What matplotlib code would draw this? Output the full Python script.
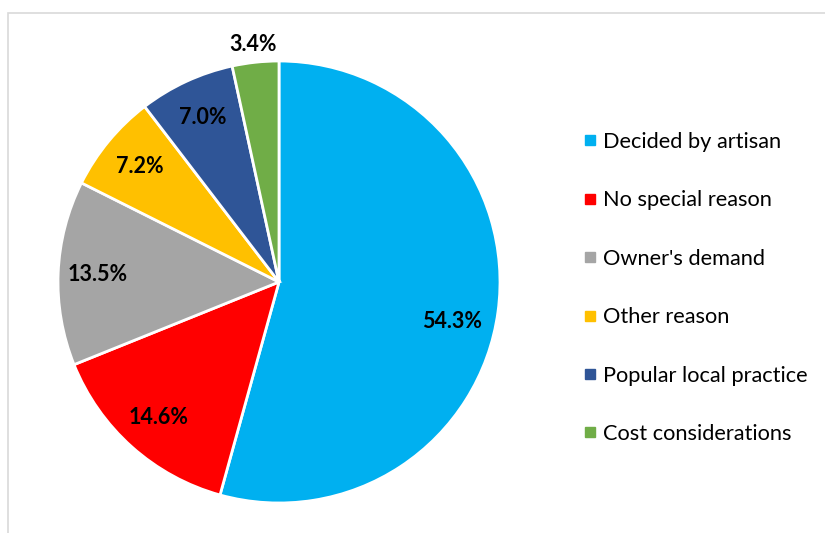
import matplotlib.pyplot as plt
from matplotlib.lines import Line2D
from matplotlib.patches import Rectangle

plt.rcParams['font.family'] = ['Lato', 'DejaVu Sans']

labels = ['Decided by artisan', 'No special reason', "Owner's demand",
          'Other reason', 'Popular local practice', 'Cost considerations']
shares = [54.3, 14.6, 13.5, 7.2, 7.0, 3.4]
colors = ['#00B0F0', '#FF0000', '#A5A5A5', '#FFC000', '#2F5597', '#70AD47']

fig = plt.figure(figsize=(8.25, 5.33), dpi=100)

# light chart-area frame
fig.patches.append(Rectangle((8 / 825, -0.01), 1.0, 1 - 13 / 533 + 0.01,
                             transform=fig.transFigure, fill=False,
                             edgecolor='#D9D9D9', linewidth=1.2))

ax = fig.add_axes([(279 - 221) / 825, (533 - 282 - 221) / 533,
                   442 / 825, 442 / 533])
wedges, texts, autotexts = ax.pie(
    shares, colors=colors, startangle=90, counterclock=False,
    autopct='%1.1f%%', pctdistance=0.82,
    wedgeprops=dict(edgecolor='white', linewidth=2),
    textprops=dict(fontsize=15.5, fontweight='bold', color='black'))

# smallest slice label sits outside the pie
x, y = autotexts[-1].get_position()
autotexts[-1].set_position((x * 1.32, y * 1.32))
# the big slice's label sits a little lower, as in the source
x, y = autotexts[0].get_position()
autotexts[0].set_position((x - 0.03, y - 0.07))
ax.set_xlim(-1, 1)
ax.set_ylim(-1, 1)
ax.set_aspect('equal')

handles = [Line2D([], [], marker='s', linestyle='none', markersize=6.5,
                  markerfacecolor=c, markeredgecolor=c) for c in colors]
fig.legend(handles, labels, loc='center left',
           bbox_to_anchor=(562 / 825, 1 - 288 / 533), frameon=False,
           fontsize=15.7, labelspacing=1.76, handletextpad=0.2,
           handlelength=0.8)

fig.savefig('out.png', dpi=100)
